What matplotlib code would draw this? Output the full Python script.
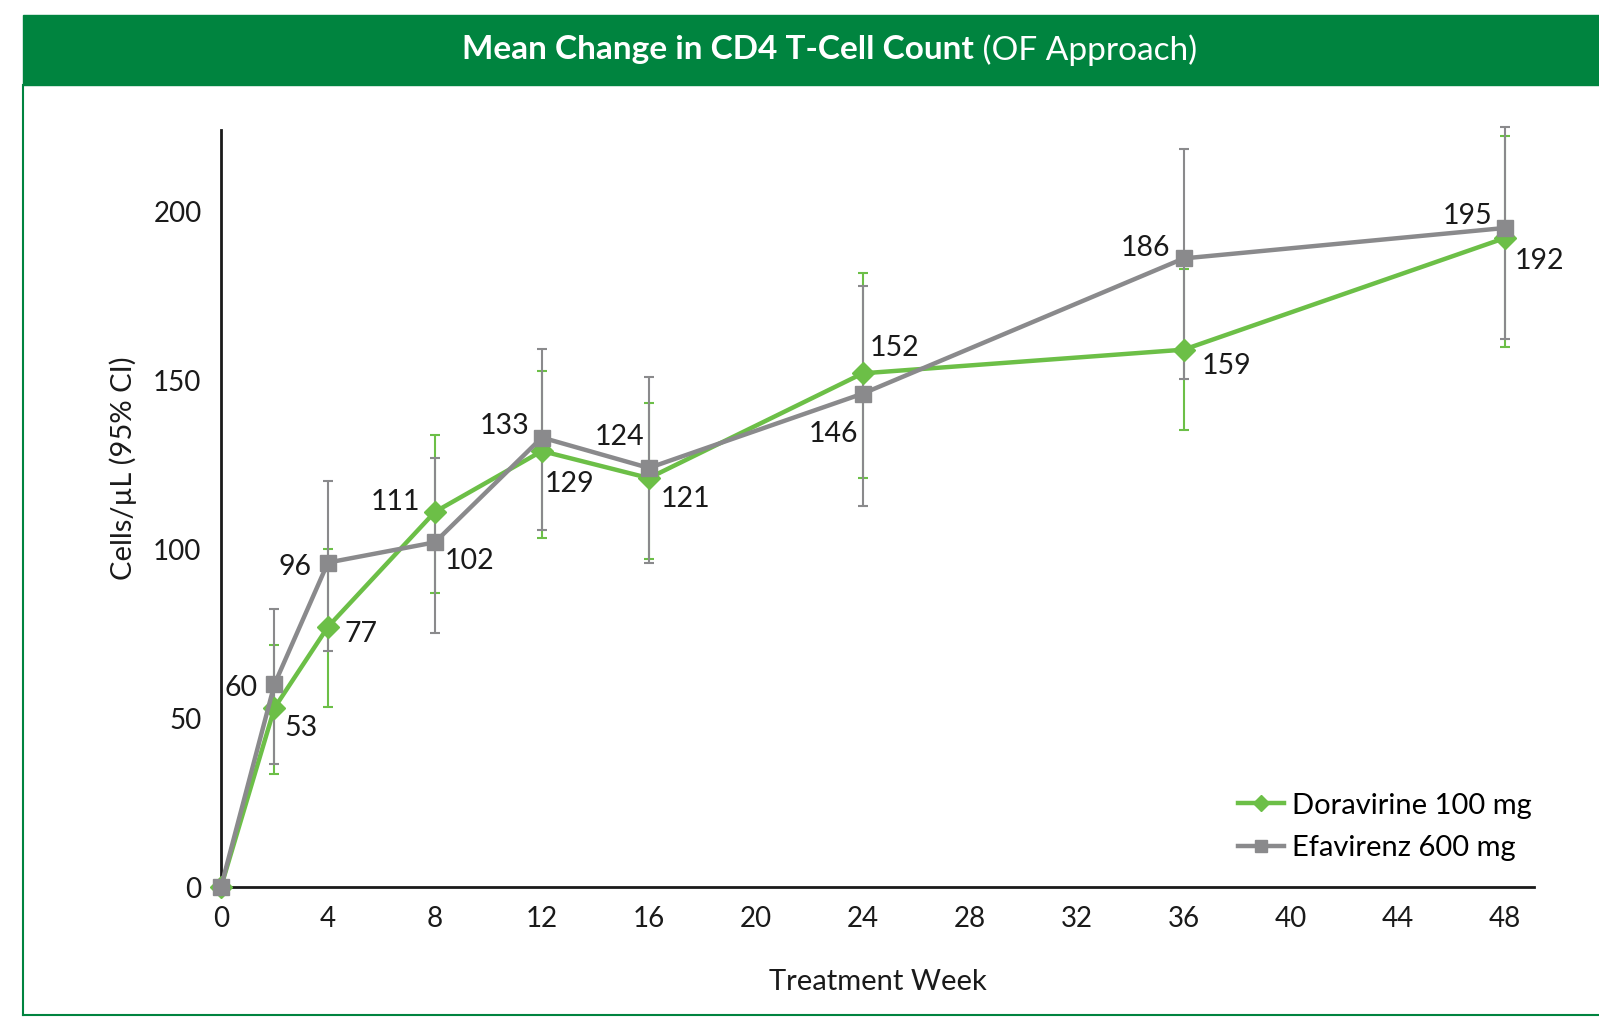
import matplotlib
matplotlib.use("Agg")
import matplotlib.pyplot as plt
from matplotlib.lines import Line2D
from matplotlib.patches import Rectangle

plt.rcParams['font.family'] = ['Lato', 'DejaVu Sans']

weeks = [0, 2, 4, 8, 12, 16, 24, 36, 48]

dora_mean = [0, 53, 77, 111, 129, 121, 152, 159, 192]
dora_lo = [0, 33.4, 53.4, 87.0, 103.3, 97.1, 120.9, 135.2, 159.9]
dora_hi = [0, 71.5, 100.0, 133.8, 152.8, 143.2, 181.8, 183.0, 222.1]

efav_mean = [0, 60, 96, 102, 133, 124, 146, 186, 195]
efav_lo = [0, 36.3, 69.7, 75.2, 105.7, 95.9, 112.6, 150.4, 162.3]
efav_hi = [0, 82.3, 120.1, 126.9, 159.1, 151.0, 177.8, 218.5, 225.0]

xticks = list(range(0, 49, 4))
yticks = [0, 50, 100, 150, 200]

# label offsets in pixels (dx, dy) for each point, None -> no label
dora_off = [None, (26, -20), (33, -7), (-39, 10), (28, -33), (37, -21), (32, 25), (43, -16), (35, -23)]
efav_off = [None, (-33, -4), (-33, -4), (35, -19), (-37, 12), (-29, 31), (-29, -40), (-38, 10), (-37, 12)]

GREEN = '#6cbf47'
GRAY = '#8a8a8c'
HEADER = '#00843f'
TXT = '#1a1a1a'

fig = plt.figure(figsize=(15.99, 10.17), dpi=100)

# header band + frame
fig.patches.append(Rectangle((23 / 1599, 1 - 85 / 1017), 1 - 23 / 1599, 70 / 1017,
                             transform=fig.transFigure, color=HEADER, zorder=0))
fig.lines.append(Line2D([23 / 1599, 23 / 1599], [1 - 85 / 1017, 1 - 1015 / 1017],
                        transform=fig.transFigure, color=HEADER, lw=1.5))
fig.lines.append(Line2D([23 / 1599, 1], [1 - 1015 / 1017, 1 - 1015 / 1017],
                        transform=fig.transFigure, color=HEADER, lw=1.5))

ax = fig.add_axes([221 / 1599, 130 / 1017, 1313 / 1599, 757 / 1017])

def err(mean, lo, hi):
    return [[m - l for m, l in zip(mean, lo)], [h - m for m, h in zip(mean, hi)]]

ax.errorbar(weeks, dora_mean, yerr=err(dora_mean, dora_lo, dora_hi), fmt='none',
            ecolor=GREEN, elinewidth=1.5, capsize=3.7, capthick=1.5, zorder=2, clip_on=False)
ax.errorbar(weeks, efav_mean, yerr=err(efav_mean, efav_lo, efav_hi), fmt='none',
            ecolor=GRAY, elinewidth=1.5, capsize=3.7, capthick=1.5, zorder=3, clip_on=False)

ax.plot(weeks, dora_mean, color=GREEN, lw=3.2, marker='D', ms=11.5, zorder=4,
        clip_on=False, label='Doravirine 100 mg')
ax.plot(weeks, efav_mean, color=GRAY, lw=3.2, marker='s', ms=11, zorder=5,
        clip_on=False, label='Efavirenz 600 mg')

for w, v, off in zip(weeks, dora_mean, dora_off):
    if off:
        ax.annotate(str(v), (w, v), xytext=off, textcoords='offset pixels',
                    ha='center', va='center', fontsize=20.5, color=TXT, zorder=6)
for w, v, off in zip(weeks, efav_mean, efav_off):
    if off:
        ax.annotate(str(v), (w, v), xytext=off, textcoords='offset pixels',
                    ha='center', va='center', fontsize=20.5, color=TXT, zorder=6)

ax.set_xlim(0, 49.1)
ax.set_ylim(0, 224)
ax.set_xticks(xticks)
ax.set_yticks(yticks)
ax.tick_params(length=0, labelsize=20, colors=TXT, pad=14)
ax.spines['top'].set_visible(False)
ax.spines['right'].set_visible(False)
for s in ['left', 'bottom']:
    ax.spines[s].set_linewidth(2)
    ax.spines[s].set_color(TXT)

ax.set_xlabel('Treatment Week', fontsize=21, color=TXT)
ax.xaxis.set_label_coords(0.5, -0.108)
ax.set_ylabel('Cells/µL (95% CI)', fontsize=21, color=TXT)
ax.yaxis.set_label_coords(-0.064, 0.553)

ax.legend(loc='lower right', bbox_to_anchor=(1.018, 0.0), frameon=False, fontsize=21,
          handlelength=1.6, handletextpad=0.25, labelspacing=0.55, markerscale=0.75)

# title in two parts: bold + regular
renderer = fig.canvas.get_renderer()
t1 = fig.text(0, 1 - 50 / 1017, 'Mean Change in CD4 T-Cell Count', fontsize=24,
              fontweight='bold', color='white', ha='left', va='center')
t2 = fig.text(0, 1 - 50 / 1017, ' (OF Approach)', fontsize=24,
              color='white', ha='left', va='center')
w1 = t1.get_window_extent(renderer).width
w2 = t2.get_window_extent(renderer).width
cx = 829.5
start = cx - (w1 + w2) / 2
t1.set_x(start / 1599)
t2.set_x((start + w1) / 1599)

fig.savefig('out.png', dpi=100)
